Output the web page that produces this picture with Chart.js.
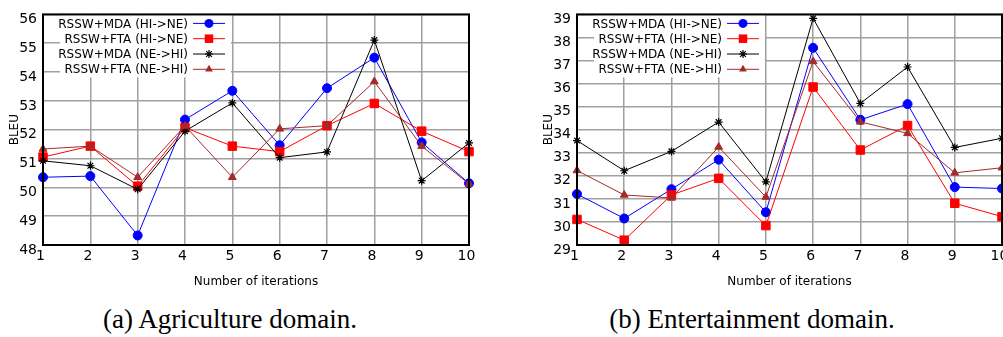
<!DOCTYPE html>
<html>
<head>
<meta charset="utf-8">
<script src="https://cdn.jsdelivr.net/npm/chart.js@4/dist/chart.umd.min.js"></script>
<style>
    html, body { margin: 0; padding: 0; background: #fff; overflow: hidden; }
    body { width: 1003px; height: 337px; position: relative; }
    canvas { position: absolute; top: 0; }
    .caption {
        position: absolute;
        top: 306px;
        font-family: 'Liberation Serif', serif;
        font-size: 27px;
        line-height: 1;
        text-align: center;
        white-space: nowrap;
        color: #000;
    }
</style>
</head>
<body>
<canvas id="agriChart" width="490" height="295" style="left:0"></canvas>
<canvas id="entChart" width="500" height="295" style="left:534px"></canvas>
<div class="caption" style="left:0;width:460px">(a) Agriculture domain.</div>
<div class="caption" style="left:534px;width:500px;margin-left:-32px">(b) Entertainment domain.</div>
<script>
// Data
const iterations = ['1', '2', '3', '4', '5', '6', '7', '8', '9', '10'];
const seriesNames = ['RSSW+MDA (HI->NE)', 'RSSW+FTA (HI->NE)', 'RSSW+MDA (NE->HI)', 'RSSW+FTA (NE->HI)'];

// (a) Agriculture
const agriMdaHiNe = [50.35, 50.39, 48.33, 52.35, 53.35, 51.46, 53.44, 54.50, 51.56, 50.14];
const agriFtaHiNe = [51.05, 51.43, 50.04, 52.07, 51.43, 51.24, 52.14, 52.91, 51.95, 51.24];
const agriMdaNeHi = [50.92, 50.75, 49.93, 51.95, 52.93, 51.03, 51.23, 55.11, 50.23, 51.54];
const agriFtaNeHi = [51.33, 51.43, 50.35, 52.13, 50.35, 52.03, 52.14, 53.67, 51.43, 50.12];
const agriTicks = [48, 56];

// (b) Entertainment
const entMdaHiNe = [31.21, 30.15, 31.42, 32.70, 30.42, 37.55, 34.43, 35.11, 31.51, 31.45];
const entFtaHiNe = [30.11, 29.21, 31.17, 31.89, 29.84, 35.85, 33.12, 34.18, 30.81, 30.23];
const entMdaNeHi = [33.53, 32.22, 33.06, 34.33, 31.74, 38.83, 35.14, 36.72, 33.23, 33.63];
const entFtaNeHi = [32.23, 31.17, 31.04, 33.25, 31.08, 36.96, 34.34, 33.84, 32.13, 32.35];
const entTicks = [29, 39];

// Series styling (gnuplot-like)
const styles = [
    { color: '#0000ff', pointStyle: 'circle', radius: 4.5 },
    { color: '#ff0000', pointStyle: 'rect', radius: 6 },
    { color: '#000000', pointStyle: 'star', radius: 4 },
    { color: '#a52a2a', pointStyle: 'triangle', radius: 4.5 }
];

const FONT = 'DejaVu Sans';

// Draw a single legend marker
function drawMarker(ctx, style, x, y) {
    const r = style.radius;
    ctx.save();
    ctx.fillStyle = style.color;
    ctx.strokeStyle = style.color;
    ctx.lineWidth = 1.2;
    ctx.beginPath();
    if (style.pointStyle === 'circle') {
        ctx.arc(x, y, r, 0, Math.PI * 2);
        ctx.fill();
    } else if (style.pointStyle === 'rect') {
        const s = r * Math.SQRT1_2;
        ctx.fillRect(x - s, y - s, 2 * s, 2 * s);
    } else if (style.pointStyle === 'triangle') {
        ctx.moveTo(x, y - r);
        ctx.lineTo(x + r * 0.866, y + r * 0.5);
        ctx.lineTo(x - r * 0.866, y + r * 0.5);
        ctx.closePath();
        ctx.fill();
    } else {
        const d = r * Math.SQRT1_2;
        ctx.moveTo(x - r, y); ctx.lineTo(x + r, y);
        ctx.moveTo(x, y - r); ctx.lineTo(x, y + r);
        ctx.moveTo(x - d, y - d); ctx.lineTo(x + d, y + d);
        ctx.moveTo(x - d, y + d); ctx.lineTo(x + d, y - d);
        ctx.stroke();
    }
    ctx.restore();
}

// Legend box inside the plot and a full frame around the chart area
const framePlugin = {
    id: 'frame',
    afterDatasetsDraw(chart) {
        const { ctx, chartArea } = chart;
        const left = chartArea.left;
        const top = chartArea.top;
        ctx.save();
        ctx.fillStyle = '#fff';
        ctx.fillRect(left + 17, top + 1, 171, 62);
        ctx.font = `12px ${FONT}`;
        ctx.textAlign = 'right';
        ctx.textBaseline = 'middle';
        seriesNames.forEach((name, i) => {
            const y = top + 9 + i * 15.3;
            ctx.fillStyle = '#000';
            ctx.fillText(name, left + 145, y + 1);
            ctx.strokeStyle = styles[i].color;
            ctx.lineWidth = 1;
            ctx.beginPath();
            ctx.moveTo(left + 150, y);
            ctx.lineTo(left + 182, y);
            ctx.stroke();
            drawMarker(ctx, styles[i], left + 166, y);
        });
        ctx.strokeStyle = '#000';
        ctx.lineWidth = 2;
        ctx.strokeRect(chartArea.left, chartArea.top, chartArea.right - chartArea.left, chartArea.bottom - chartArea.top);
        ctx.restore();
    }
};

function buildChart(canvasId, series, range, padRight) {
    const ctx = document.getElementById(canvasId).getContext('2d');
    return new Chart(ctx, {
        type: 'line',
        data: {
            labels: iterations,
            datasets: series.map((values, i) => ({
                label: seriesNames[i],
                data: values,
                borderColor: styles[i].color,
                backgroundColor: styles[i].color,
                pointStyle: styles[i].pointStyle,
                pointRadius: styles[i].radius,
                pointBorderWidth: i === 2 ? 1.2 : 1,
                borderWidth: 1,
                fill: false,
                tension: 0,
                order: 4 - i
            }))
        },
        options: {
            responsive: false,
            animation: false,
            layout: { padding: { top: 11, right: padRight, bottom: 0, left: 0 } },
            plugins: { legend: { display: false }, tooltip: { enabled: false } },
            scales: {
                x: {
                    offset: false,
                    grid: { color: '#a0a0a0', lineWidth: 1.5, drawTicks: false },
                    border: { display: false },
                    ticks: { color: '#000', font: { family: FONT, size: 14 }, padding: 3, labelOffset: -2.5, maxRotation: 0, autoSkip: false },
                    title: { display: true, text: 'Number of iterations', color: '#000', font: { family: FONT, size: 12 }, padding: { top: 0, bottom: 6 } },
                    afterFit: s => { s.height = 50; }
                },
                y: {
                    min: range[0],
                    max: range[1],
                    grid: { color: '#a0a0a0', lineWidth: 1.5, drawTicks: false },
                    border: { display: false },
                    ticks: { stepSize: 1, color: '#000', font: { family: FONT, size: 14 }, padding: 6, labelOffset: 5 },
                    title: { display: true, text: 'BLEU', color: '#000', font: { family: FONT, size: 12 }, padding: { top: 8, bottom: 0 } },
                    afterFit: s => { s.width = 43; }
                }
            }
        },
        plugins: [framePlugin]
    });
}

buildChart('agriChart', [agriMdaHiNe, agriFtaHiNe, agriMdaNeHi, agriFtaNeHi], agriTicks, 21);
buildChart('entChart', [entMdaHiNe, entFtaHiNe, entMdaNeHi, entFtaNeHi], entTicks, 32);
</script>
</body>
</html>
